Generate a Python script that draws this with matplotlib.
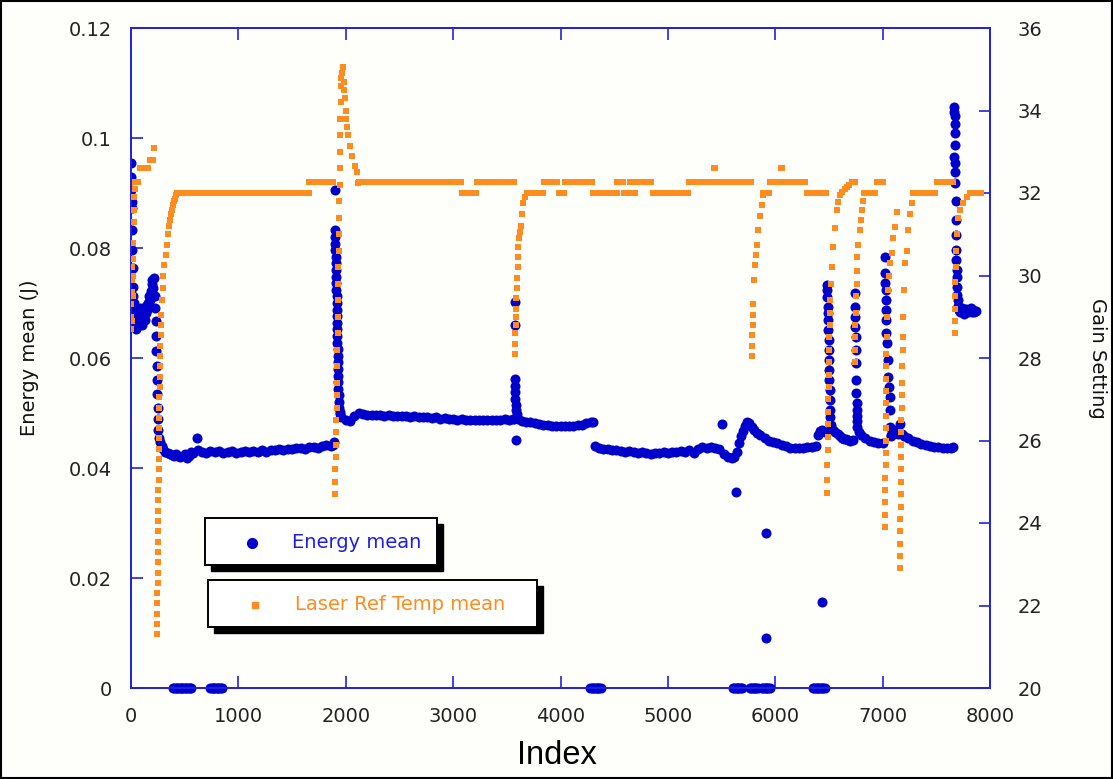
import numpy as np
import matplotlib
matplotlib.use("Agg")
import matplotlib.pyplot as plt
from matplotlib.patches import Rectangle
from matplotlib.lines import Line2D
from matplotlib.ticker import FuncFormatter

# ---------------- data (index, value) ----------------
energy_start = [(0, .0955), (2, .0930), (4, .0905), (6, .0884), (8, .0873), (10, .0833), (13, .0796),
                (16, .0764), (19, .0730), (22, .0712), (26, .0700), (30, .0685), (35, .0672), (40, .0660),
                (48, .0652), (56, .0668), (64, .0680), (72, .0662), (80, .0675), (88, .0690), (96, .0670),
                (104, .0660), (112, .0678), (120, .0686), (128, .0670), (136, .0682), (144, .0695),
                (152, .0688), (160, .0700), (168, .0712), (176, .0705), (184, .0722), (192, .0735),
                (200, .0742), (208, .0728), (214, .0745), (220, .0712), (226, .0690), (230, .0668),
                (234, .0640), (237, .0612), (240, .0585), (243, .0560), (246, .0535), (249, .0510),
                (252, .0490), (256, .0470), (262, .0455), (270, .0447), (285, .0440), (300, .0434),
                (320, .0430), (340, .0428), (360, .0425), (380, .0423), (400, .0422), (420, .0425),
                (440, .0421), (460, .0420), (500, .0425), (520, .0418), (540, .0421), (560, .0430),
                (615, .0455)]
energy_plateau_a = [(580, .0428), (620, .0433), (660, .0430), (700, .0428), (740, .0431), (780, .0429),
                    (820, .0431), (860, .0428), (900, .0429), (940, .0431), (980, .0428), (1020, .0430),
                    (1060, .0431), (1100, .0429), (1140, .0431), (1180, .0430), (1220, .0432), (1260, .0430),
                    (1300, .0433), (1340, .0432), (1380, .0434), (1420, .0432), (1460, .0435), (1500, .0434),
                    (1540, .0436), (1580, .0437), (1620, .0435), (1660, .0438), (1700, .0439), (1740, .0437),
                    (1780, .0440), (1820, .0441), (1860, .0440), (1885, .0442)]
energy_spike_a = [(1890, .0448), (1898, .0905), (1900, .0833), (1902, .0820), (1903, .0808), (1904, .0796),
                  (1906, .0784), (1907, .0772), (1908, .0760), (1910, .0748), (1911, .0736), (1912, .0724),
                  (1914, .0712), (1915, .0700), (1916, .0688), (1918, .0676), (1919, .0664), (1920, .0652),
                  (1922, .0640), (1923, .0628), (1924, .0616), (1926, .0604), (1927, .0592), (1928, .0580),
                  (1930, .0568), (1931, .0556), (1932, .0544), (1934, .0532), (1936, .0520), (1938, .0510),
                  (1942, .0502), (1948, .0498)]
energy_plateau_b = [(1960, .0493), (2000, .0488), (2040, .0486), (2080, .0495), (2120, .0500), (2160, .0498),
                    (2200, .0497), (2240, .0496), (2280, .0497), (2320, .0496), (2360, .0495), (2400, .0496),
                    (2440, .0495), (2480, .0494), (2520, .0495), (2560, .0494), (2600, .0493), (2640, .0494),
                    (2680, .0492), (2720, .0493), (2760, .0492), (2800, .0491), (2840, .0492), (2880, .0490),
                    (2920, .0491), (2960, .0489), (3000, .0490), (3040, .0488), (3080, .0489), (3120, .0488),
                    (3160, .0487), (3200, .0488), (3240, .0487), (3280, .0488), (3320, .0487), (3360, .0488),
                    (3400, .0487), (3440, .0488), (3480, .0489), (3520, .0488), (3560, .0490)]
energy_spike_b = [(3568, .0490), (3572, .0702), (3574, .0660), (3576, .0562), (3577, .0550), (3578, .0538),
                  (3580, .0526), (3582, .0515), (3584, .0505), (3588, .0451), (3592, .0498)]
energy_plateau_c = [(3600, .0490), (3640, .0486), (3680, .0484), (3720, .0483), (3760, .0482), (3800, .0480),
                    (3840, .0479), (3880, .0478), (3920, .0477), (3960, .0476), (4000, .0476), (4040, .0477),
                    (4080, .0476), (4120, .0477), (4160, .0478), (4200, .0479), (4240, .0481), (4280, .0483),
                    (4300, .0484)]
energy_plateau_d = [(4320, .0440), (4360, .0436), (4400, .0435), (4440, .0434), (4480, .0432), (4520, .0433),
                    (4560, .0431), (4600, .0430), (4640, .0431), (4680, .0429), (4720, .0428), (4760, .0429),
                    (4800, .0427), (4840, .0426), (4880, .0428), (4920, .0427), (4960, .0429), (5000, .0428),
                    (5040, .0430), (5080, .0429), (5120, .0431), (5160, .0430), (5200, .0432), (5240, .0428),
                    (5280, .0434), (5320, .0438), (5360, .0437), (5400, .0439), (5440, .0437), (5480, .0435),
                    (5520, .0425), (5560, .0420), (5600, .0418)]
energy_bump = [(5620, .0420), (5640, .0430), (5660, .0445), (5680, .0458), (5700, .0468), (5720, .0477),
               (5740, .0483), (5760, .0481), (5780, .0475), (5800, .0470), (5830, .0464), (5860, .0460),
               (5900, .0455), (5940, .0450), (5980, .0448), (6020, .0445), (6060, .0442), (6100, .0440),
               (6140, .0437), (6180, .0436), (6220, .0437), (6260, .0437), (6300, .0438), (6340, .0438),
               (6380, .0440), (6400, .0460), (6420, .0468), (6440, .0470), (6460, .0465)]
energy_spike_c = [(6480, .0733), (6484, .0724), (6486, .0711), (6488, .0693), (6490, .0682), (6492, .0669),
                  (6494, .0651), (6496, .0633), (6498, .0615), (6500, .0596), (6502, .0578), (6504, .0560),
                  (6506, .0542), (6508, .0524), (6510, .0505), (6514, .0492), (6520, .0478)]
energy_plateau_e = [(6540, .0470), (6560, .0466), (6580, .0462), (6600, .0458), (6620, .0455), (6640, .0453),
                    (6660, .0452), (6680, .0451), (6700, .0450), (6720, .0451)]
energy_spike_d = [(6740, .0718), (6742, .0693), (6744, .0675), (6746, .0656), (6748, .0638), (6750, .0615),
                  (6752, .0591), (6754, .0560), (6756, .0536), (6758, .0518), (6760, .0505), (6762, .0495),
                  (6764, .0485), (6766, .0475)]
energy_plateau_f = [(6780, .0466), (6800, .0460), (6840, .0455), (6880, .0450), (6920, .0448), (6960, .0446),
                    (7000, .0446)]
energy_spike_e = [(7022, .0784), (7024, .0755), (7026, .0736), (7028, .0724), (7030, .0705), (7032, .0687),
                  (7034, .0669), (7036, .0645), (7040, .0627), (7050, .0596), (7054, .0565), (7062, .0547),
                  (7066, .0529), (7068, .0505), (7070, .0475), (7075, .0458)]
energy_plateau_g = [(7080, .0460), (7100, .0465), (7120, .0470), (7140, .0462), (7160, .0480), (7180, .0462),
                    (7200, .0458), (7240, .0455), (7280, .0450), (7320, .0447), (7360, .0444), (7400, .0442),
                    (7440, .0440), (7480, .0439), (7520, .0438), (7560, .0437), (7600, .0437), (7640, .0437),
                    (7660, .0438)]
energy_spike_f = [(7666, .0965), (7668, .1056), (7669, .1048), (7670, .1040), (7671, .1025), (7672, .1010),
                  (7674, .0987), (7676, .0955), (7677, .0938), (7678, .0918), (7680, .0885), (7682, .0851),
                  (7684, .0824), (7686, .0796), (7688, .0778), (7690, .0760), (7692, .0747), (7694, .0730),
                  (7696, .0715), (7698, .0705)]
energy_blob = [(7705, .0695), (7715, .0688), (7725, .0683), (7735, .0690), (7745, .0686), (7755, .0680),
               (7765, .0684), (7775, .0689), (7785, .0687), (7795, .0683), (7805, .0688), (7815, .0685),
               (7825, .0690), (7835, .0684), (7845, .0687), (7855, .0683), (7865, .0686)]
energy_outliers = [(5505, .0480), (5634, .0357), (5914, .0282), (5914, .0091), (6436, .0156)]
energy_zero_runs = [(392, 568), (738, 848), (4278, 4378), (5607, 5700), (5765, 5840), (5877, 5951), (6352, 6463)]

temp_start = [(0, 28.7), (2, 29.0), (4, 29.3), (6, 28.9), (8, 29.6), (10, 29.9), (12, 30.2), (14, 29.5),
              (16, 30.0), (18, 30.4), (20, 30.8), (24, 31.3), (28, 31.6), (32, 31.9), (36, 32.1)]
temp_runs = [(40, 80, 32.27), (80, 178, 32.6), (178, 212, 32.8), (215, 240, 33.1), (430, 1660, 32.0),
             (1660, 1898, 32.27), (2120, 3085, 32.27), (3085, 3220, 32.0), (3220, 3576, 32.27),
             (3690, 3845, 32.0), (3845, 3985, 32.27), (3985, 4040, 32.0), (4040, 4300, 32.27),
             (4300, 4530, 32.0), (4530, 4590, 32.27), (4590, 4650, 32.0), (4650, 4690, 32.27),
             (4690, 4715, 32.0), (4715, 4860, 32.27), (4860, 5200, 32.0), (5200, 5782, 32.27),
             (5890, 5950, 32.0), (5950, 6300, 32.27), (6300, 6480, 32.0), (6715, 6742, 32.27),
             (6830, 6950, 32.0), (6950, 7021, 32.27), (7290, 7506, 32.0), (7506, 7670, 32.27),
             (7814, 7920, 32.0)]
temp_drop_a = [(242, 21.3), (243, 21.55), (244, 21.8), (245, 22.05), (246, 22.3), (247, 22.55), (248, 22.8),
               (249, 23.05), (250, 23.3), (251, 23.55), (252, 23.8), (253, 24.05), (254, 24.3), (255, 24.55),
               (256, 24.8), (257, 25.05), (258, 25.3), (259, 25.55), (260, 25.8), (261, 26.05), (262, 26.3),
               (263, 26.55), (264, 26.8), (265, 27.05), (266, 27.3), (268, 27.55), (270, 27.8), (272, 28.05),
               (274, 28.3), (276, 28.55), (279, 28.8), (283, 29.05), (289, 29.4), (295, 29.7), (300, 30.0),
               (310, 30.25), (322, 30.5), (335, 30.75), (345, 31.0), (355, 31.2), (363, 31.35), (372, 31.5),
               (382, 31.6), (391, 31.7), (400, 31.8), (410, 31.85), (420, 31.95)]
temp_peak_b = [(1900, 24.7), (1902, 25.0), (1904, 25.3), (1906, 25.6), (1908, 25.9), (1910, 26.2), (1912, 26.5),
               (1914, 26.8), (1916, 27.1), (1918, 27.4), (1920, 27.8), (1922, 28.2), (1924, 28.6), (1926, 29.0),
               (1928, 29.4), (1930, 29.8), (1932, 30.2), (1934, 30.6), (1936, 31.0), (1938, 31.4), (1940, 31.8),
               (1942, 32.2), (1944, 32.6), (1946, 33.0), (1948, 33.4), (1950, 33.8), (1953, 34.2), (1956, 34.6),
               (1960, 34.8), (1966, 34.9), (1974, 35.05), (1980, 34.7), (1986, 34.5), (1993, 34.3), (1998, 34.0),
               (2005, 33.8), (2012, 33.6), (2025, 33.4), (2040, 33.15), (2058, 32.9), (2086, 32.65),
               (2105, 32.5), (2114, 32.25)]
temp_drop_c = [(3576, 28.1), (3578, 28.35), (3580, 28.6), (3582, 28.8), (3584, 29.0), (3586, 29.2),
               (3590, 29.45), (3595, 29.7), (3598, 29.95), (3601, 30.2), (3604, 30.45), (3608, 30.7),
               (3615, 30.9), (3623, 31.05), (3628, 31.2), (3641, 31.5), (3651, 31.75), (3670, 31.9)]
temp_drop_d = [(5783, 28.05), (5785, 28.3), (5787, 28.55), (5789, 28.8), (5791, 29.05), (5793, 29.3),
               (5800, 29.9), (5811, 30.25), (5822, 30.5), (5830, 30.75), (5839, 31.1), (5858, 31.45),
               (5877, 31.7), (5886, 31.95)]
temp_drop_e = [(6482, 24.72), (6483, 25.04), (6485, 25.41), (6487, 25.77), (6489, 26.08), (6491, 26.4),
               (6493, 26.7), (6495, 27.0), (6497, 27.3), (6499, 27.6), (6501, 27.9), (6503, 28.2), (6505, 28.5),
               (6507, 28.8), (6509, 29.1), (6511, 29.4), (6520, 29.8), (6529, 30.2), (6538, 30.69),
               (6557, 31.15), (6575, 31.59), (6585, 31.78), (6600, 31.95), (6622, 32.02), (6645, 32.1),
               (6668, 32.15), (6690, 32.2), (6715, 32.27)]
temp_drop_f = [(6743, 27.9), (6744, 28.2), (6745, 28.5), (6747, 28.8), (6750, 29.1), (6753, 29.5), (6757, 29.8),
               (6760, 30.1), (6765, 30.45), (6770, 30.75), (6785, 31.1), (6800, 31.35), (6810, 31.6),
               (6817, 31.8), (6830, 32.0)]
temp_drop_g = [(7022, 23.9), (7023, 24.2), (7024, 24.5), (7025, 24.8), (7026, 25.1), (7027, 25.4), (7028, 25.7),
               (7029, 26.0), (7030, 26.3), (7031, 26.6), (7032, 26.9), (7033, 27.2), (7034, 27.5), (7035, 27.8),
               (7036, 28.1), (7038, 28.5), (7041, 29.0), (7050, 29.65), (7060, 30.0), (7069, 30.3),
               (7087, 30.55), (7097, 30.9), (7115, 31.18), (7134, 31.54)]
temp_drop_h = [(7162, 22.9), (7163, 23.2), (7164, 23.5), (7165, 23.8), (7166, 24.1), (7167, 24.4), (7168, 24.7),
               (7169, 25.0), (7170, 25.3), (7171, 25.6), (7172, 25.9), (7173, 26.2), (7174, 26.5), (7176, 26.8),
               (7178, 27.1), (7180, 27.4), (7184, 27.8), (7188, 28.2), (7190, 28.5), (7193, 29.0),
               (7196, 29.65), (7208, 30.3), (7227, 30.6), (7236, 31.1), (7255, 31.5), (7274, 31.76),
               (7283, 32.0)]
temp_drop_i = [(7672, 28.6), (7673, 28.9), (7674, 29.2), (7676, 29.5), (7678, 29.85), (7680, 30.2), (7684, 30.6),
               (7690, 31.0), (7702, 31.4), (7721, 31.6), (7749, 31.76), (7786, 31.9)]
temp_blips = [(5430, 32.6), (5440, 32.6), (6058, 32.6), (6066, 32.6)]

x_ticks = [0, 1000, 2000, 3000, 4000, 5000, 6000, 7000, 8000]
left_ticks = [0, 0.02, 0.04, 0.06, 0.08, 0.1, 0.12]
right_ticks = [20, 22, 24, 26, 28, 30, 32, 34, 36]

# ---------------- assemble series ----------------
RUN_STEP = 25
energy_pts = (energy_start + energy_plateau_a + energy_spike_a + energy_plateau_b + energy_spike_b +
              energy_plateau_c + energy_plateau_d + energy_bump + energy_spike_c + energy_plateau_e +
              energy_spike_d + energy_plateau_f + energy_spike_e + energy_plateau_g + energy_spike_f +
              energy_blob + energy_outliers)
ex = [p[0] for p in energy_pts]
ey = [p[1] for p in energy_pts]
zx, zy = [], []
for s, e in energy_zero_runs:
    for i in range(s, e + 1, 12):
        zx.append(i)
        zy.append(0.0)

temp_pts = (temp_start + temp_drop_a + temp_peak_b + temp_drop_c + temp_drop_d + temp_drop_e +
            temp_drop_f + temp_drop_g + temp_drop_h + temp_drop_i + temp_blips)
tx = [p[0] for p in temp_pts]
ty = [p[1] for p in temp_pts]
for s, e, v in temp_runs:
    for i in range(s, e, RUN_STEP):
        tx.append(i)
        ty.append(v)

# ---------------- figure ----------------
W, H = 1113, 779
BLUE = "#0000CC"
SPINE = "#2222E0"
ORANGE = "#FF8C1E"
fig = plt.figure(figsize=(W / 100, H / 100), dpi=100)
fig.patch.set_facecolor("#FEFEFB")

def fx(px):
    return px / W

def fy(py):
    return 1 - py / H

ax = fig.add_axes([fx(131), fy(688), 859 / W, 660 / H])
ax.set_facecolor("#FEFEFB")
ax2 = ax.twinx()

ax.scatter(ex, ey, s=52, marker="o", color=BLUE, linewidths=0, zorder=3)
ax.scatter(zx, zy, s=52, marker="o", color=BLUE, linewidths=0, zorder=3, clip_on=False)
ax2.scatter(tx, ty, s=16, marker="s", color=ORANGE, linewidths=0, zorder=3)

ax.set_xlim(0, 8000)
ax.set_ylim(0, 0.12)
ax2.set_ylim(20, 36)
ax.set_xticks(x_ticks)
ax.set_yticks(left_ticks)
ax2.set_yticks(right_ticks)
ax.yaxis.set_major_formatter(FuncFormatter(lambda v, p: "%g" % v))

for a in (ax, ax2):
    for sp in a.spines.values():
        sp.set_color(SPINE)
        sp.set_linewidth(1.3)
ax.tick_params(axis="x", direction="in", length=8.5, width=1.2, color=SPINE, labelsize=14,
               labelcolor="#222222", pad=14, top=True)
ax.tick_params(axis="y", direction="in", length=8.5, width=1.2, color=SPINE, labelsize=14,
               labelcolor="#222222", pad=14, left=True, right=False)
ax2.tick_params(axis="y", direction="in", length=8, width=1.2, color=SPINE, labelsize=14,
                labelcolor="#222222", pad=20)

fig.text(fx(30), fy(358), "Energy mean (J)", rotation=90, ha="center", va="center", fontsize=14,
         color="#111111")
fig.text(fx(1098), fy(358), "Gain Setting", rotation=-90, ha="center", va="center", fontsize=14,
         color="#111111")
fig.text(fx(557), fy(755), "Index", ha="center", va="center", fontsize=23.5, family="Liberation Sans",
         color="#000000")

# ---------------- legend boxes ----------------
def box(x0, y0, x1, y1, off):
    fig.add_artist(Rectangle((fx(x0 + off), fy(y1 + off)), (x1 - x0) / W, (y1 - y0) / H,
                             transform=fig.transFigure, facecolor="black", edgecolor="black", zorder=10))
    fig.add_artist(Rectangle((fx(x0), fy(y1)), (x1 - x0) / W, (y1 - y0) / H,
                             transform=fig.transFigure, facecolor="white", edgecolor="black",
                             linewidth=1.4, zorder=11))

box(205, 518, 437, 565, 6)
box(208, 580, 537, 627, 6)
fig.add_artist(Line2D([fx(252)], [fy(543)], transform=fig.transFigure, marker="o", markersize=7,
                      color=BLUE, linestyle="none", zorder=12))
fig.add_artist(Line2D([fx(255)], [fy(605)], transform=fig.transFigure, marker="s", markersize=4,
                      color=ORANGE, linestyle="none", zorder=12))
fig.text(fx(292), fy(543), "Energy mean", ha="left", va="center", fontsize=14, color="#1E1EE6", zorder=12)
fig.text(fx(295), fy(605), "Laser Ref Temp mean", ha="left", va="center", fontsize=14, color=ORANGE,
         zorder=12)

# figure border
fig.add_artist(Rectangle((0.001, 0.001), 0.998, 0.998, transform=fig.transFigure, fill=False,
                         edgecolor="black", linewidth=1.5, zorder=20))

fig.savefig("out.png", dpi=100, facecolor=fig.get_facecolor())
